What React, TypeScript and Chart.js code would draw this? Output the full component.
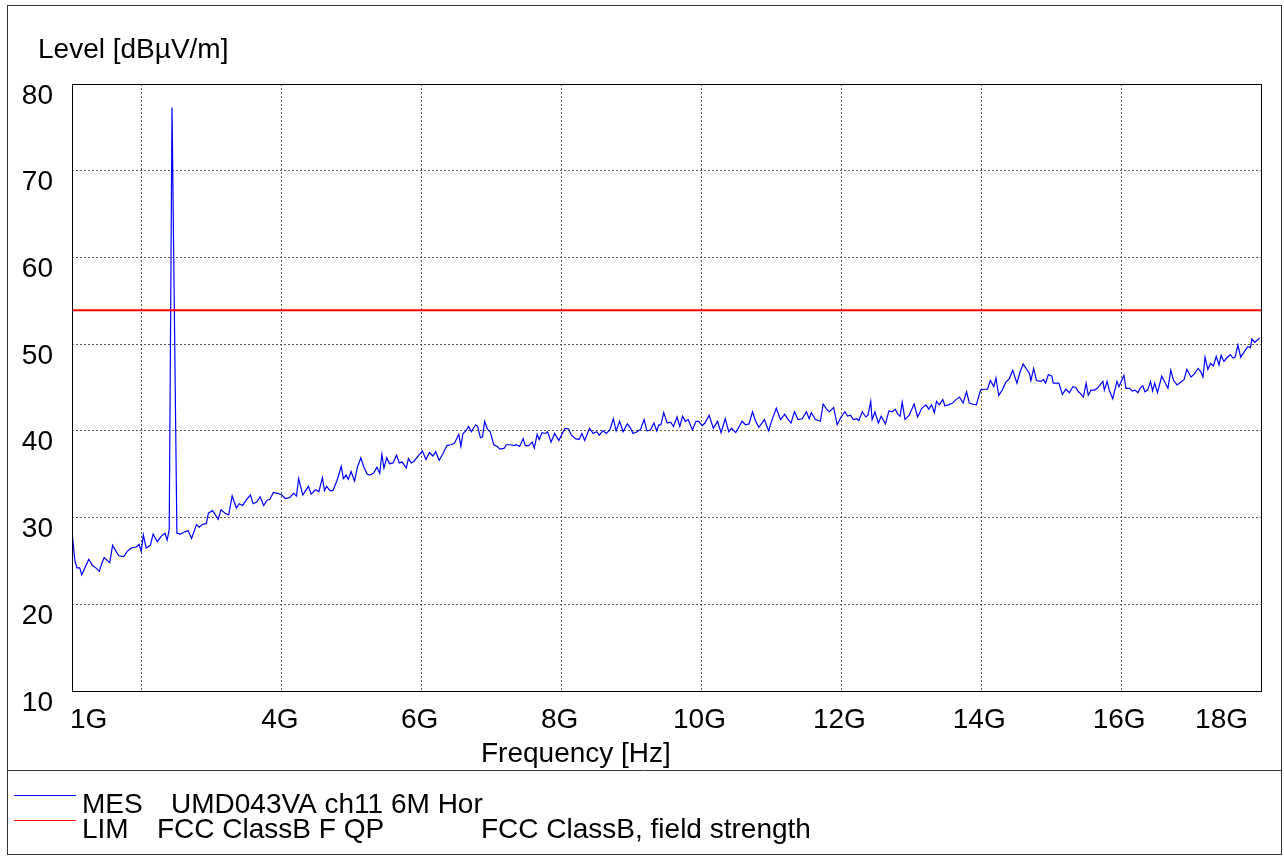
import { useEffect, useRef } from 'react';
import { Chart, registerables } from 'chart.js';

Chart.register(...registerables);

// Measured trace (MES): frequency in GHz, level in dBµV/m
const freqGHz = [
  1.00, 1.04, 1.07, 1.11, 1.14, 1.19, 1.24, 1.29, 1.34, 1.39, 1.43, 1.46, 1.51, 1.54, 1.58, 1.63, 1.67, 1.74, 1.79, 1.85,
  1.92, 1.96, 1.99, 2.02, 2.06, 2.12, 2.16, 2.22, 2.27, 2.33, 2.36, 2.39, 2.43, 2.50, 2.55, 2.60, 2.66, 2.71, 2.78, 2.82,
  2.86, 2.92, 2.95, 3.01, 3.09, 3.13, 3.19, 3.24, 3.29, 3.35, 3.39, 3.44, 3.49, 3.55, 3.59, 3.64, 3.69, 3.74, 3.79, 3.83,
  3.88, 3.94, 4.00, 4.05, 4.11, 4.17, 4.21, 4.24, 4.30, 4.34, 4.38, 4.42, 4.48, 4.53, 4.58, 4.61, 4.64, 4.69, 4.73, 4.79,
  4.85, 4.88, 4.92, 4.95, 4.99, 5.04, 5.08, 5.13, 5.17, 5.22, 5.26, 5.31, 5.36, 5.40, 5.43, 5.46, 5.50, 5.54, 5.59, 5.64,
  5.68, 5.72, 5.78, 5.81, 5.85, 5.89, 5.96, 6.01, 6.06, 6.11, 6.16, 6.20, 6.25, 6.30, 6.36, 6.42, 6.47, 6.53, 6.56, 6.59,
  6.63, 6.67, 6.71, 6.77, 6.80, 6.84, 6.87, 6.90, 6.94, 6.98, 7.03, 7.08, 7.12, 7.18, 7.21, 7.27, 7.32, 7.35, 7.40, 7.45,
  7.48, 7.53, 7.58, 7.61, 7.65, 7.68, 7.72, 7.77, 7.80, 7.85, 7.90, 7.96, 8.01, 8.05, 8.10, 8.14, 8.20, 8.25, 8.29, 8.33,
  8.40, 8.45, 8.50, 8.54, 8.59, 8.64, 8.69, 8.74, 8.78, 8.83, 8.88, 8.94, 8.98, 9.02, 9.08, 9.13, 9.18, 9.22, 9.27, 9.32,
  9.36, 9.39, 9.42, 9.46, 9.51, 9.56, 9.60, 9.65, 9.69, 9.73, 9.77, 9.81, 9.87, 9.92, 9.96, 10.01, 10.05, 10.11, 10.17, 10.23,
  10.28, 10.34, 10.39, 10.43, 10.49, 10.54, 10.58, 10.63, 10.68, 10.73, 10.77, 10.82, 10.90, 10.96, 11.01, 11.07, 11.13, 11.19, 11.24, 11.28,
  11.33, 11.38, 11.44, 11.50, 11.54, 11.57, 11.63, 11.70, 11.74, 11.80, 11.83, 11.89, 11.94, 11.99, 12.05, 12.09, 12.13, 12.17, 12.22, 12.25,
  12.30, 12.35, 12.38, 12.42, 12.44, 12.48, 12.53, 12.57, 12.63, 12.68, 12.73, 12.77, 12.81, 12.84, 12.87, 12.91, 12.97, 13.04, 13.09, 13.15,
  13.21, 13.25, 13.29, 13.33, 13.36, 13.40, 13.45, 13.48, 13.53, 13.59, 13.64, 13.69, 13.74, 13.79, 13.83, 13.87, 13.93, 13.99, 14.04, 14.09,
  14.13, 14.18, 14.21, 14.25, 14.30, 14.35, 14.40, 14.45, 14.51, 14.56, 14.60, 14.65, 14.69, 14.71, 14.75, 14.79, 14.85, 14.89, 14.92, 14.96,
  15.01, 15.03, 15.08, 15.11, 15.16, 15.21, 15.26, 15.31, 15.35, 15.39, 15.42, 15.46, 15.50, 15.53, 15.57, 15.62, 15.66, 15.70, 15.74, 15.76,
  15.80, 15.83, 15.88, 15.94, 15.97, 16.04, 16.07, 16.12, 16.16, 16.20, 16.24, 16.27, 16.31, 16.34, 16.38, 16.42, 16.45, 16.48, 16.52, 16.58,
  16.62, 16.67, 16.71, 16.75, 16.80, 16.85, 16.90, 16.94, 17.00, 17.05, 17.10, 17.14, 17.17, 17.20, 17.24, 17.28, 17.32, 17.36, 17.40, 17.43,
  17.47, 17.51, 17.56, 17.60, 17.63, 17.67, 17.71, 17.76, 17.81, 17.85, 17.87, 17.91, 17.98,
];

const levelDb = [
  28.4, 25.1, 24.2, 24.2, 23.4, 24.3, 25.2, 24.5, 24.2, 23.8, 24.8, 25.4, 25.0, 24.8, 26.8, 26.1, 25.6, 25.5, 26.1, 26.5,
  26.6, 26.9, 26.1, 28.0, 26.5, 26.8, 28.1, 27.2, 27.8, 28.2, 27.4, 28.6, 77.3, 28.2, 28.1, 28.3, 28.5, 27.6, 29.2, 28.9,
  29.2, 29.3, 30.5, 30.8, 29.8, 30.9, 30.5, 30.3, 32.5, 31.1, 31.6, 31.4, 32.0, 32.6, 31.6, 31.8, 32.4, 31.4, 32.0, 32.1,
  32.9, 32.8, 32.6, 32.2, 32.3, 32.8, 32.5, 34.5, 32.6, 33.1, 33.6, 32.7, 33.2, 33.0, 34.6, 33.1, 33.6, 33.1, 33.1, 34.3,
  35.9, 34.5, 34.9, 34.4, 35.3, 34.2, 35.8, 36.9, 35.9, 35.0, 34.9, 35.1, 35.8, 35.1, 37.3, 35.7, 36.9, 36.2, 36.3, 37.2,
  36.3, 36.4, 35.7, 36.8, 36.3, 36.5, 37.2, 37.7, 36.7, 37.5, 37.1, 37.6, 36.6, 37.3, 38.3, 38.4, 38.6, 39.6, 38.2, 39.7,
  40.0, 40.5, 39.9, 40.7, 40.5, 39.2, 39.3, 41.1, 40.2, 39.9, 38.4, 38.2, 37.9, 38.0, 38.4, 38.4, 38.3, 38.4, 38.2, 39.1,
  38.3, 38.3, 38.7, 38.0, 39.6, 39.0, 39.8, 39.7, 39.9, 38.7, 39.7, 38.9, 39.7, 40.3, 40.2, 39.5, 39.1, 39.0, 39.7, 38.9,
  40.3, 39.7, 39.9, 39.5, 40.0, 39.7, 40.1, 41.4, 40.0, 41.1, 39.9, 40.8, 40.4, 39.7, 39.9, 40.2, 41.3, 40.0, 40.1, 40.9,
  40.0, 40.7, 40.7, 42.1, 40.9, 41.0, 40.5, 41.6, 40.5, 41.7, 41.1, 41.3, 40.1, 41.1, 41.1, 40.6, 40.9, 41.8, 40.3, 41.1,
  39.8, 41.4, 39.9, 40.3, 39.8, 40.5, 41.1, 40.7, 40.8, 42.2, 41.2, 40.4, 41.3, 40.0, 41.3, 42.6, 41.3, 41.9, 41.3, 40.9,
  42.2, 41.3, 41.4, 42.2, 41.4, 42.1, 41.3, 41.1, 43.1, 42.4, 42.2, 42.7, 40.7, 41.5, 42.2, 41.7, 41.8, 41.3, 41.4, 41.2,
  42.2, 41.6, 41.8, 43.4, 41.3, 42.2, 40.9, 41.7, 40.8, 42.3, 42.2, 42.5, 41.9, 41.7, 43.3, 41.3, 41.8, 43.1, 41.6, 42.6,
  43.0, 42.5, 43.0, 42.1, 43.4, 43.0, 43.6, 42.9, 43.0, 43.2, 43.6, 43.9, 43.2, 44.5, 43.2, 43.1, 43.0, 44.7, 44.8, 44.8,
  45.8, 45.1, 46.1, 44.1, 44.7, 45.6, 46.0, 47.0, 45.5, 46.9, 47.7, 47.1, 46.6, 45.8, 47.2, 45.8, 45.7, 45.9, 45.5, 46.5,
  46.3, 45.5, 45.5, 45.5, 44.2, 44.8, 44.4, 45.1, 45.0, 44.5, 44.3, 43.9, 45.5, 44.1, 44.7, 44.7, 44.9, 45.3, 45.7, 44.7,
  45.7, 44.7, 43.7, 45.7, 45.1, 46.4, 44.9, 44.9, 44.6, 44.7, 44.4, 44.9, 45.2, 44.5, 44.7, 45.7, 44.6, 45.5, 44.4, 46.3,
  45.7, 44.9, 47.0, 45.8, 45.3, 45.6, 45.9, 47.1, 46.2, 46.6, 47.2, 46.8, 46.2, 48.5, 47.1, 47.8, 47.5, 48.6, 47.6, 48.7,
  48.0, 48.4, 48.8, 48.4, 48.5, 49.9, 48.5, 49.1, 49.7, 49.6, 50.6, 50.2, 50.7,
];

// Limit line (LIM)
const limitFreqGHz = [1, 18];
const limitDb = [53.9, 53.9];

// Axes
const xGridGHz = [1, 2, 4, 6, 8, 10, 12, 14, 16, 18];
const xTickValues = [1, 4, 6, 8, 10, 12, 14, 16, 18];
const xTickLabels = ['1G', '4G', '6G', '8G', '10G', '12G', '14G', '16G', '18G'];
const yTickValues = [10, 20, 30, 40, 50, 60, 70, 80];
const yTickLabels = ['10', '20', '30', '40', '50', '60', '70', '80'];

const yTitle = 'Level [dBµV/m]';
const xTitle = 'Frequency [Hz]';
const legendRows = [
  { color: '#0000ff', tag: 'MES', name: 'UMD043VA ch11 6M Hor', extra: '' },
  { color: '#ff0000', tag: 'LIM', name: 'FCC ClassB F QP', extra: 'FCC ClassB, field strength' },
];

const FONT = '28px "Liberation Sans", Arial, Helvetica, sans-serif';

const decorPlugin = {
  id: 'emcDecor',
  afterDatasetsDraw(chart: any) {
    const { ctx, chartArea: a, scales } = chart;
    const xs = scales.x;
    const ys = scales.y;
    ctx.save();

    // plot frame
    ctx.strokeStyle = '#000';
    ctx.lineWidth = 1;
    ctx.setLineDash([]);
    const l = Math.round(a.left) + 0.5;
    const t = Math.round(a.top) + 0.5;
    const r = Math.round(a.right) + 0.5;
    const b = Math.round(a.bottom) + 0.5;
    ctx.strokeRect(l, t, r - l, b - t);

    // outer frame + separator
    ctx.strokeStyle = '#333';
    ctx.strokeRect(7.5, 5.5, 1274, 849);
    ctx.beginPath();
    ctx.moveTo(7.5, 770.5);
    ctx.lineTo(1281.5, 770.5);
    ctx.stroke();

    ctx.fillStyle = '#000';
    ctx.font = FONT;
    ctx.textBaseline = 'alphabetic';

    // y tick labels
    ctx.textAlign = 'right';
    yTickValues.forEach((v, i) => {
      const py = ys.getPixelForValue(v);
      ctx.fillText(yTickLabels[i], 53, py + 19.5);
    });

    // x tick labels
    xTickValues.forEach((v, i) => {
      const px = xs.getPixelForValue(v);
      if (i === 0) {
        ctx.textAlign = 'left';
        ctx.fillText(xTickLabels[i], px - 2, 728);
      } else if (i === xTickValues.length - 1) {
        ctx.textAlign = 'right';
        ctx.fillText(xTickLabels[i], px - 13, 728);
      } else {
        ctx.textAlign = 'center';
        ctx.fillText(xTickLabels[i], px - 2, 728);
      }
    });

    // titles
    ctx.textAlign = 'left';
    ctx.fillText(yTitle, 38, 58);
    ctx.fillText(xTitle, 481, 762);

    // legend
    legendRows.forEach((row, i) => {
      const base = 813 + i * 25;
      const ly = 795.5 + i * 25;
      ctx.strokeStyle = row.color;
      ctx.lineWidth = 1;
      ctx.beginPath();
      ctx.moveTo(14, ly);
      ctx.lineTo(76, ly);
      ctx.stroke();
      ctx.fillText(row.tag, 82, base);
      ctx.fillText(row.name, i === 0 ? 171 : 157, base);
      if (row.extra) ctx.fillText(row.extra, 481, base);
    });

    ctx.restore();
  },
};

export default function App() {
  const ref = useRef<HTMLCanvasElement | null>(null);

  useEffect(() => {
    if (!ref.current) return;
    const mes = freqGHz.map((f, i) => ({ x: f, y: levelDb[i] }));
    const lim = limitFreqGHz.map((f, i) => ({ x: f, y: limitDb[i] }));
    const gridOpts = { color: '#5a5a5a', lineWidth: 1, drawTicks: false };
    const borderOpts = { display: false, dash: [2, 2] };
    const chart = new Chart(ref.current, {
      type: 'scatter',
      data: {
        datasets: [
          {
            label: 'LIM',
            data: lim,
            showLine: true,
            borderColor: '#ff0000',
            borderWidth: 2,
            pointRadius: 0,
            tension: 0,
            fill: false,
          },
          {
            label: 'MES',
            data: mes,
            showLine: true,
            borderColor: '#0000ff',
            borderWidth: 1.2,
            pointRadius: 0,
            tension: 0,
            fill: false,
          },
        ],
      },
      options: {
        responsive: false,
        animation: false,
        devicePixelRatio: 1,
        events: [],
        layout: { padding: { left: 72, top: 84, right: 23, bottom: 165 } },
        plugins: { legend: { display: false }, tooltip: { enabled: false }, title: { display: false } },
        scales: {
          x: {
            type: 'linear',
            min: 1,
            max: 18,
            ticks: { display: false },
            grid: gridOpts,
            border: borderOpts,
            afterBuildTicks: (s: any) => {
              s.ticks = xGridGHz.map((v) => ({ value: v }));
            },
            afterFit: (s: any) => {
              s.height = 0;
            },
          },
          y: {
            type: 'linear',
            min: 10,
            max: 80,
            ticks: { display: false, stepSize: 10 },
            grid: gridOpts,
            border: borderOpts,
            afterBuildTicks: (s: any) => {
              s.ticks = yTickValues.map((v) => ({ value: v }));
            },
            afterFit: (s: any) => {
              s.width = 0;
            },
          },
        },
      } as any,
      plugins: [decorPlugin],
    });
    return () => chart.destroy();
  }, []);

  return (
    <canvas
      ref={ref}
      width={1284}
      height={856}
      style={{ position: 'fixed', left: 0, top: 0, width: 1284, height: 856, background: '#fff' }}
    />
  );
}
